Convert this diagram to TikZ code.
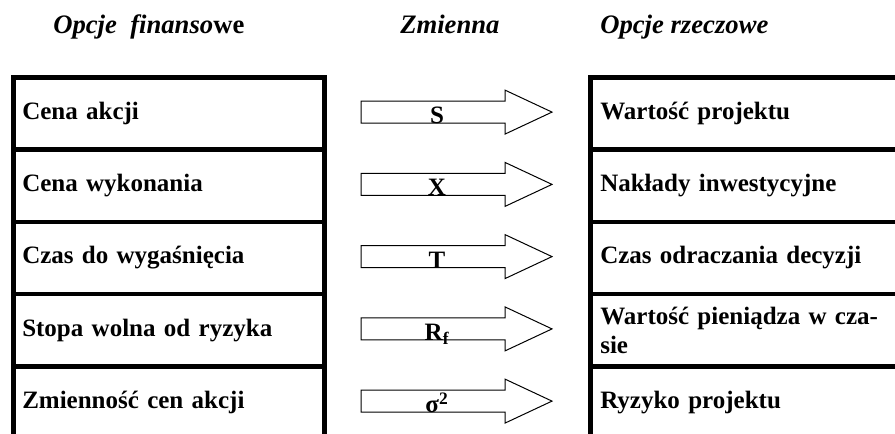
\documentclass[tikz,border=0pt]{standalone}
\usepackage{fontspec}
\setmainfont{Liberation Serif}
\begin{document}
\begin{tikzpicture}[x=0.75pt,y=-0.75pt,
  title/.style={anchor=base west, inner sep=0pt, font=\fontsize{20}{24}\selectfont\bfseries},
  lcell/.style={draw, line width=3.4pt, anchor=north west, inner xsep=6.75pt, inner ysep=0pt,
     minimum width=233.25pt, minimum height=54.19pt, text width=219.75pt, align=left,
     font=\fontsize{18.75}{22}\selectfont\bfseries},
  rcell/.style={draw, line width=3.4pt, anchor=north west, inner xsep=7.5pt, inner ysep=0pt,
     minimum width=241.5pt, minimum height=54.19pt, text width=226.5pt, align=left,
     font=\fontsize{18.75}{22}\selectfont\bfseries},
  varrow/.style={draw, line width=0.75pt, line join=miter},
  vlabel/.style={anchor=base, inner sep=0pt, font=\fontsize{18.75}{22}\selectfont\bfseries}]
\newcommand\myarrowat[1]{\draw[varrow] (#1) ++(-95.5,-11) -- ++(144,0) -- ++(0,-11)
   -- ++(47,22) -- ++(-47,22) -- ++(0,-11) -- ++(-144,0) -- cycle;}
\useasboundingbox (0,0) rectangle (895,433);
% titles
\node[title] (t1) at (53,33) {\itshape Opcje\ \ finanso\upshape we};
\node[title] (t2) at (400,33) {\itshape Zmienna};
\node[title] (t3) at (600,33) {\itshape Opcje rzeczowe};
% left column
\node[lcell] (l1) at (11,75) {Cena akcji};
\node[lcell] (l2) at (11,147.25) {Cena wykonania};
\node[lcell] (l3) at (11,219.5) {Czas do wygaśnięcia};
\node[lcell] (l4) at (11,291.75) {Stopa wolna od ryzyka};
\node[lcell] (l5) at (11,364) {Zmienność cen akcji};
% right column
\node[rcell] (r1) at (588,75) {Wartość projektu};
\node[rcell] (r2) at (588,147.25) {Nakłady inwestycyjne};
\node[rcell] (r3) at (588,219.5) {Czas odraczania decyzji};
\node[rcell] (r4) at (588,291.75) {Wartość pieniądza w cza-\\sie};
\node[rcell] (r5) at (588,364) {Ryzyko projektu};
% arrows
\coordinate (a1) at (456.5,112.1);
\coordinate (a2) at (456.5,184.4);
\coordinate (a3) at (456.5,256.6);
\coordinate (a4) at (456.5,328.9);
\coordinate (a5) at (456.5,401.1);
\myarrowat{a1}
\myarrowat{a2}
\myarrowat{a3}
\myarrowat{a4}
\myarrowat{a5}
\node[vlabel] (v1) at (437,123.6) {S};
\node[vlabel] (v2) at (437,195.9) {X};
\node[vlabel] (v3) at (437,268.1) {T};
\node[vlabel] (v4) at (437,340.4) {R\textsubscript{f}};
\node[vlabel] (v5) at (437,412.6) {σ\textsuperscript{2}};
\end{tikzpicture}
\end{document}
